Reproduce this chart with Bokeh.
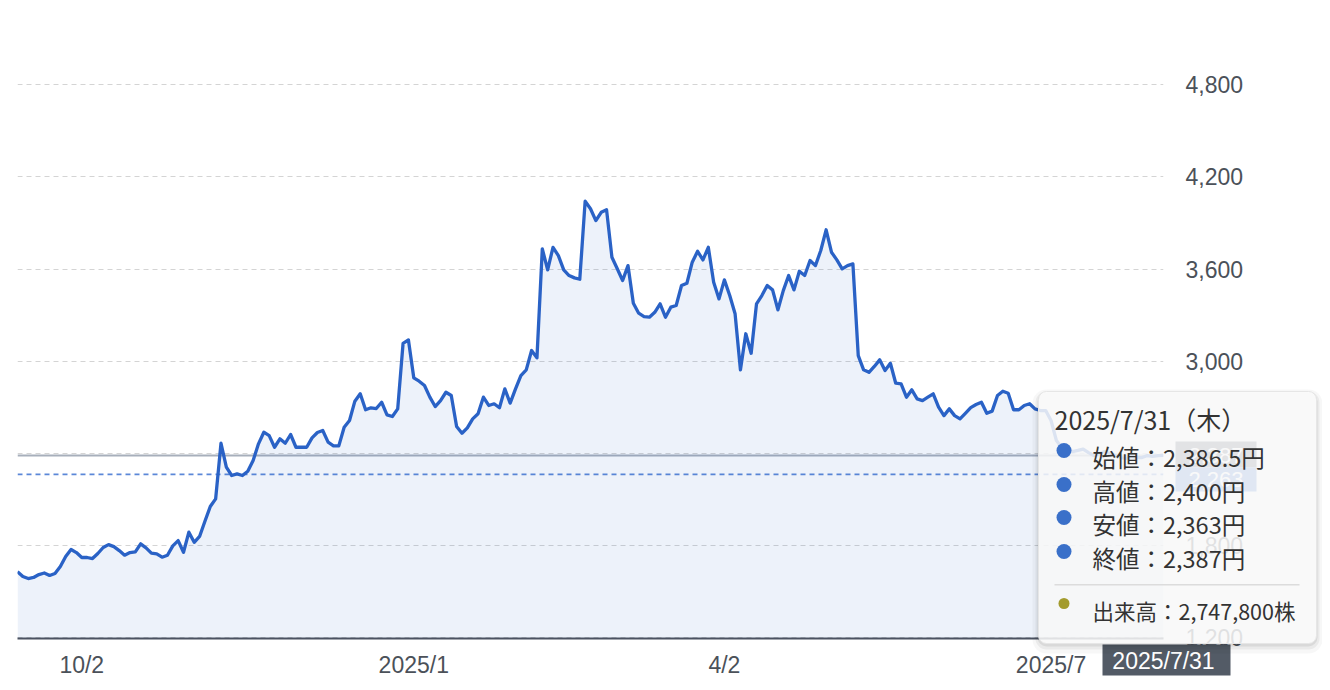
import pandas as pd
from bokeh.plotting import figure
from bokeh.models import (Range1d, FixedTicker, NumeralTickFormatter, Span,
                          ColumnDataSource)
from bokeh.core.properties import value
from bokeh.embed import file_html
from bokeh.resources import INLINE

# ---------------- data ----------------
jp_holidays = ["2024-09-16", "2024-09-23", "2024-10-14", "2024-11-04", "2024-12-31",
               "2025-01-01", "2025-01-02", "2025-01-03", "2025-01-13", "2025-02-11",
               "2025-02-24", "2025-03-20", "2025-04-29", "2025-05-05", "2025-05-06",
               "2025-07-21"]
start_date = "2024-09-12"
end_date = "2025-07-31"

prices = [
    1630, 1598, 1585, 1592, 1611, 1621, 1605, 1618, 1663, 1728,
    1774, 1754, 1722, 1722, 1715, 1748, 1787, 1806, 1793, 1767,
    1737, 1754, 1759, 1811, 1785, 1750, 1746, 1724, 1737, 1798,
    1832, 1756, 1887, 1821, 1859, 1958, 2054, 2104, 2466, 2310,
    2256, 2267, 2256, 2284, 2353, 2462, 2538, 2516, 2440, 2495,
    2466, 2523, 2440, 2440, 2440, 2501, 2536, 2549, 2473, 2449,
    2449, 2570, 2614, 2740, 2788, 2684, 2697, 2692, 2733, 2651,
    2640, 2690, 3117, 3139, 2892, 2870, 2842, 2766, 2705, 2744,
    2798, 2777, 2575, 2531, 2566, 2625, 2658, 2766, 2712, 2723,
    2697, 2820, 2727, 2820, 2907, 2944, 3070, 3022, 3732, 3595,
    3742, 3688, 3595, 3558, 3543, 3534, 4042, 3993, 3916, 3970,
    3986, 3677, 3602, 3526, 3623, 3378, 3313, 3291, 3287, 3319,
    3374, 3287, 3352, 3363, 3493, 3508, 3645, 3716, 3660, 3742,
    3515, 3406, 3530, 3428, 3309, 2944, 3179, 3052, 3374, 3428,
    3493, 3465, 3335, 3460, 3558, 3465, 3586, 3558, 3656, 3623,
    3721, 3856, 3710, 3660, 3602, 3623, 3634, 3037, 2944, 2928,
    2966, 3009, 2940, 2987, 2857, 2853, 2766, 2814, 2755, 2744,
    2766, 2788, 2701, 2646, 2690, 2646, 2625, 2661, 2698, 2718,
    2733, 2661, 2675, 2777, 2805, 2792, 2684, 2684, 2712, 2723,
    2690, 2679, 2679, 2614, 2484, 2438, 2428, 2412, 2419, 2428,
    2405, 2386, 2399, 2412, 2399, 2386, 2373, 2367, 2380, 2373,
    2373, 2386, 2380, 2386, 2387,
]

tick_dates = ["2024-10-02", "2025-01-06", "2025-04-02", "2025-07-01"]
tick_labels = ["10/2", "2025/1", "4/2", "2025/7"]
y_ticks = [1200, 1800, 2400, 3000, 3600, 4200, 4800]

last_close = 2387
average_line = 2263
tip_title = "2025/7/31（木）"
ohlc_names = ["始値", "高値", "安値", "終値"]
ohlc_values = [2386.5, 2400, 2363, 2387]
volume_name = "出来高"
volume_value = 2747800
last_date_label = "2025/7/31"

# ---------------- build ----------------
dates = pd.bdate_range(start_date, end_date, freq="C", holidays=jp_holidays)
n = min(len(dates), len(prices))
idx = list(range(n))
src = ColumnDataSource(dict(i=idx, price=prices[:n]))

W, H = 1322, 682
BL, BR, BT, BB = 17, 159, 20, 44
X0, X1 = 0, n - 1
Y0, Y1 = 1194.5, 5219

p = figure(width=W, height=H, output_backend="svg", toolbar_location=None,
           x_range=Range1d(X0, X1), y_range=Range1d(Y0, Y1),
           y_axis_location="right", min_border_left=BL, min_border_right=BR,
           min_border_top=BT, min_border_bottom=BB)
p.outline_line_color = None
p.background_fill_color = "white"
p.border_fill_color = "white"

# canvas-pixel -> data helpers for the overlay (tooltip, tags)
FL, FR, FT, FB = BL, W - BR, BT, H - BB
def dx(px):
    return X0 + (px - FL) / (FR - FL) * (X1 - X0)
def dy(py):
    return Y1 - (py - FT) / (FB - FT) * (Y1 - Y0)

# grid
p.xgrid.visible = False
p.ygrid.ticker = FixedTicker(ticks=y_ticks)
p.ygrid.grid_line_color = "#d4d4d4"
p.ygrid.grid_line_dash = "5 4"
p.ygrid.grid_line_width = 1.2

# area + line
p.varea(x="i", y1=Y0, y2="price", source=src, fill_color="#2a64c5", fill_alpha=0.085)
p.add_layout(Span(location=last_close, dimension="width", line_color="#a7afbb",
                  line_width=2, level="underlay"))
p.add_layout(Span(location=average_line, dimension="width", line_color="#5b87d8",
                  line_width=1.6, line_dash="5 4", level="underlay"))
p.line(x="i", y="price", source=src, line_color="#2a62c6", line_width=3.3,
       line_join="round")

# axes
ax = p.yaxis[0]
ax.ticker = FixedTicker(ticks=y_ticks)
ax.formatter = NumeralTickFormatter(format="0,0")
ax.axis_line_color = None
ax.major_tick_line_color = None
ax.minor_tick_line_color = None
ax.major_tick_out = 0
ax.major_label_standoff = 22
ax.major_label_text_font = "Liberation Sans"
ax.major_label_text_font_size = "23px"
ax.major_label_text_color = "#4b5159"

tick_pos = [int(dates.get_loc(pd.Timestamp(d))) for d in tick_dates]
xa = p.xaxis[0]
xa.ticker = FixedTicker(ticks=tick_pos)
xa.major_label_overrides = {t: l for t, l in zip(tick_pos, tick_labels)}
xa.axis_line_color = "#4b5261"
xa.axis_line_width = 2
xa.major_tick_line_color = None
xa.minor_tick_line_color = None
xa.major_tick_out = 0
xa.major_label_standoff = 13
xa.major_label_text_font = "Liberation Sans"
xa.major_label_text_font_size = "23px"
xa.major_label_text_color = "#4b5159"

LIB = value("Liberation Sans")
FONT = value("Noto Sans CJK JP")

# value tags on right axis (level annotation -> drawn outside the frame)
p.quad(left=[dx(1175), dx(1175)], right=[dx(1256), dx(1256)],
       top=[dy(441), dy(467)], bottom=[dy(467), dy(491)],
       fill_color=["#5d6571", "#4f7fd6"], line_color=None, level="annotation")
p.text(x=[dx(1215.5), dx(1215.5)], y=[dy(454.5), dy(479)],
       text=[f"{last_close:,}", f"{average_line:,}"], text_align="center",
       text_baseline="middle", text_font=LIB, text_font_size="22px",
       text_color="white", level="annotation")

# last date tag under the x axis
p.quad(left=[dx(1102)], right=[dx(1230)], top=[dy(644)], bottom=[dy(675)],
       fill_color="#535b66", line_color=None, level="annotation")
p.text(x=[X1], y=[dy(660)], text=[last_date_label], text_align="center",
       text_baseline="middle", text_font=LIB, text_font_size="23px",
       text_color="white", level="annotation")

# tooltip
TL, TR, TT, TBm = 1038, 1316, 391, 643
for grow, off, a in [(6, 4, 0.03), (3, 3, 0.05), (1, 2, 0.07)]:
    p.quad(left=[dx(TL - grow)], right=[dx(TR + grow)], top=[dy(TT - grow + off)],
           bottom=[dy(TBm + grow + off)], fill_color="black", fill_alpha=a,
           line_color=None, border_radius=8 + grow, level="overlay")
p.quad(left=[dx(TL)], right=[dx(TR)], top=[dy(TT)], bottom=[dy(TBm)],
       fill_color="white", fill_alpha=0.84, line_color="#e6e6e6", line_width=1,
       border_radius=8, level="overlay")

p.text(x=[dx(1054)], y=[dy(418)], text=[tip_title], text_font=FONT,
       text_font_size="25px", text_color="#333333", text_baseline="middle",
       level="overlay")
row_y = [456, 490, 523, 557]
p.scatter(x=[dx(1063.5)] * 4, y=[dy(r - 6) for r in row_y], size=15, marker="circle",
          fill_color="#3a70c9", line_color=None, level="overlay")
p.text(x=[dx(1092)] * 4, y=[dy(r) for r in row_y],
       text=[f"{nm}：{v:,}円" for nm, v in zip(ohlc_names, ohlc_values)],
       text_font=FONT, text_font_size="23.5px", text_color="#333333",
       text_baseline="middle", level="overlay")
p.quad(left=[dx(1054)], right=[dx(1299)], top=[dy(583.5)], bottom=[dy(585)],
       fill_color="#dcdcdc", line_color=None, level="overlay")
p.scatter(x=[dx(1063.5)], y=[dy(603)], size=11, marker="circle",
          fill_color="#a39b2d", line_color=None, level="overlay")
p.text(x=[dx(1092)], y=[dy(610)], text=[f"{volume_name}：{volume_value:,}株"],
       text_font=FONT, text_font_size="21.5px", text_color="#333333",
       text_baseline="middle", level="overlay")

open("out.html", "w").write(file_html(p, INLINE))
